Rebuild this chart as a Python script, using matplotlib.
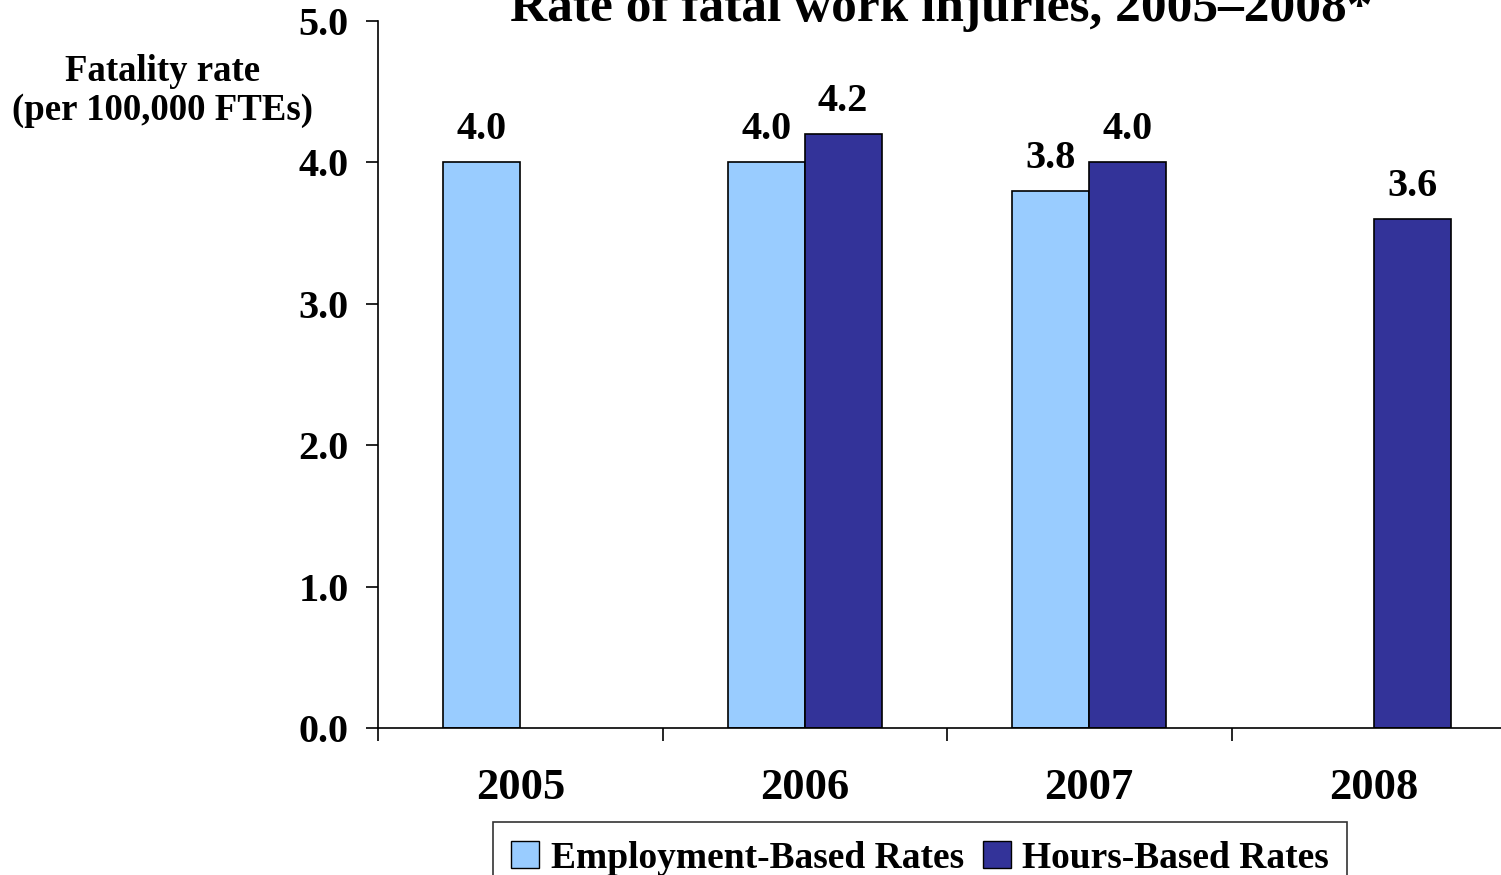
import numpy as np
import matplotlib
matplotlib.use("Agg")
import matplotlib.pyplot as plt
from matplotlib.patches import Patch

years = ["2005", "2006", "2007", "2008"]
employment_rates = [4.0, 4.0, 3.8, np.nan]
hours_rates = [np.nan, 4.2, 4.0, 3.6]
y_ticks = [0.0, 1.0, 2.0, 3.0, 4.0, 5.0]

light_blue = "#99CCFF"
dark_blue = "#333399"

plt.rcParams["font.family"] = ["Liberation Serif", "DejaVu Serif"]
plt.rcParams["font.weight"] = "bold"

fig = plt.figure(figsize=(15.01, 8.75), dpi=100)
ax = fig.add_axes([378 / 1501, 1 - 728 / 875, 1138 / 1501, 707 / 875])

x = np.arange(len(years))
w = 0.27

# draw the bars, one series on each side of the category centre
for vals, off, col in [(employment_rates, -w / 2, light_blue), (hours_rates, w / 2, dark_blue)]:
    for xi, v in zip(x, vals):
        if np.isnan(v):
            continue
        ax.bar(xi + off, v, width=w, color=col, edgecolor="black", linewidth=1.2)
        ax.text(xi + off, v + 0.1, f"{v:.1f}", ha="center", va="bottom",
                fontsize=29, fontweight="bold")

ax.set_xlim(-0.5, len(years) - 0.5)
ax.set_ylim(0, 5.0)
ax.set_yticks(y_ticks)
ax.set_yticklabels([f"{t:.1f}" for t in y_ticks], fontsize=29, fontweight="bold")
ax.set_xticks(np.arange(-0.5, len(years), 1.0))
ax.set_xticklabels([])
ax.set_xticks(x, minor=True)
ax.set_xticklabels(years, minor=True, fontsize=32, fontweight="bold")
ax.tick_params(axis="x", which="major", length=9, width=1.2, direction="out")
ax.tick_params(axis="x", which="minor", length=0, pad=29)
ax.tick_params(axis="y", length=9, width=1.2, direction="out", pad=12)

for s in ["top", "right"]:
    ax.spines[s].set_visible(False)
ax.spines["left"].set_linewidth(1.2)
ax.spines["bottom"].set_linewidth(1.2)

fig.text(163 / 1501, 1 - 91 / 875, "Fatality rate\n(per 100,000 FTEs)", ha="center",
         va="center", fontsize=26.5, fontweight="bold", linespacing=1.15)

fig.text(941 / 1501, 1 - 21 / 875, "Rate of fatal work injuries, 2005\u20132008*",
         ha="center", va="baseline", fontsize=37, fontweight="bold")

handles = [Patch(facecolor=light_blue, edgecolor="black", label="Employment-Based Rates"),
           Patch(facecolor=dark_blue, edgecolor="black", label="Hours-Based Rates")]
leg = fig.legend(handles=handles, loc="upper center", bbox_to_anchor=(920 / 1501, 1 - 822 / 875),
                 ncol=2, fontsize=27, frameon=True, fancybox=False, handlelength=0.75,
                 handleheight=0.75, handletextpad=0.3, columnspacing=0.5,
                 borderpad=0.5, borderaxespad=0, edgecolor="black")
leg.get_frame().set_linewidth(1.2)

fig.savefig("out.png", dpi=100)
